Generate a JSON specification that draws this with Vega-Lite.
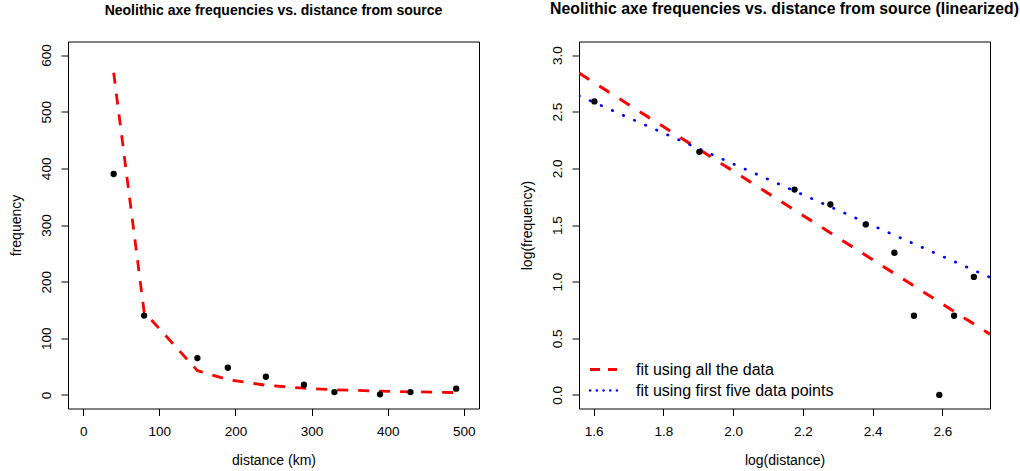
{
  "$schema": "https://vega.github.io/schema/vega-lite/v6.json",
  "autosize": {"type": "pad"},
  "padding": {"left": 8, "top": -0.5, "right": 0, "bottom": 0},
  "bounds": "flush",
  "spacing": 100,
  "resolve": {"scale": {"color": "independent", "strokeDash": "independent"}, "legend": {"color": "independent", "strokeDash": "independent"}},
  "config": {
    "font": "Liberation Sans",
    "view": {"stroke": "black", "strokeWidth": 1},
    "axis": {"domain": false, "grid": false, "ticks": true, "tickColor": "black", "tickSize": 7, "tickWidth": 1, "labelColor": "black", "labelFont": "Liberation Sans", "labelFontSize": 13.5, "titleFont": "Liberation Sans", "titleFontSize": 14, "titleFontWeight": "normal", "titleColor": "black", "labelOverlap": false, "labelFlush": false},
    "axisX": {"labelPadding": 9, "titlePadding": 15},
    "axisY": {"labelAngle": -90, "labelAlign": "center", "labelBaseline": "bottom", "labelPadding": 8, "titlePadding": 16},
    "title": {"font": "Liberation Sans", "fontSize": 14, "fontWeight": "bold", "color": "black", "anchor": "middle", "frame": "group", "baseline": "alphabetic", "offset": 24},
    "legend": {"orient": "none", "legendX": 16.5, "legendY": 320, "symbolType": "M-1.35,0H1.35", "symbolSize": 400, "symbolStrokeWidth": 2.5, "symbolFillColor": "transparent", "labelFontSize": 16, "labelFont": "Liberation Sans", "labelColor": "black", "labelOffset": 24.5, "labelLimit": 0, "rowPadding": 5, "padding": 0, "titlePadding": 0}
  },
  "hconcat": [
    {
      "width": 411,
      "height": 367,
      "title": "Neolithic axe frequencies vs. distance from source",
      "data": {"values": [
        {"distance": 40, "frequency": 390, "fitted": 568.8},
        {"distance": 80, "frequency": 140, "fitted": 146.5},
        {"distance": 150, "frequency": 65, "fitted": 42.8},
        {"distance": 190, "frequency": 48, "fitted": 27.0},
        {"distance": 240, "frequency": 32, "fitted": 17.1},
        {"distance": 290, "frequency": 18, "fitted": 11.8},
        {"distance": 330, "frequency": 5, "fitted": 9.2},
        {"distance": 390, "frequency": 1, "fitted": 6.6},
        {"distance": 430, "frequency": 5, "fitted": 5.5},
        {"distance": 490, "frequency": 11, "fitted": 4.2}
      ]},
      "layer": [
        {
          "mark": {"type": "line", "color": "red", "strokeDash": [11, 10], "strokeWidth": 2.8, "clip": true},
          "encoding": {
            "x": {"field": "distance", "type": "quantitative", "scale": {"domain": [-20, 520], "nice": false, "zero": false}, "axis": {"values": [0, 100, 200, 300, 400, 500], "title": "distance (km)"}},
            "y": {"field": "fitted", "type": "quantitative", "scale": {"domain": [-24, 624], "nice": false, "zero": false}, "axis": {"values": [0, 100, 200, 300, 400, 500, 600], "title": "frequency"}}
          }
        },
        {
          "mark": {"type": "point", "filled": true, "shape": "circle", "size": 40, "color": "black", "opacity": 1},
          "encoding": {
            "x": {"field": "distance", "type": "quantitative"},
            "y": {"field": "frequency", "type": "quantitative"}
          }
        }
      ]
    },
    {
      "width": 411,
      "height": 367,
      "title": {"text": "Neolithic axe frequencies vs. distance from source (linearized)", "fontSize": 15.8},
      "layer": [
        {
          "data": {"values": [
            {"fit": "fit using all the data", "logd": 1.558, "logf": 2.8412},
            {"fit": "fit using all the data", "logd": 2.7365, "logf": 0.5352}
          ]},
          "mark": {"type": "line", "color": "red", "strokeDash": [12, 12], "strokeWidth": 3, "clip": true},
          "encoding": {
            "x": {"field": "logd", "type": "quantitative", "scale": {"domain": [1.558, 2.7365], "nice": false, "zero": false}, "axis": {"values": [1.6, 1.8, 2.0, 2.2, 2.4, 2.6], "format": ".1f", "title": "log(distance)"}},
            "y": {"field": "logf", "type": "quantitative", "scale": {"domain": [-0.12, 3.12], "nice": false, "zero": false}, "axis": {"values": [0, 0.5, 1, 1.5, 2, 2.5, 3], "format": ".1f", "title": "log(frequency)"}}
          }
        },
        {
          "data": {"values": [
            {"fit": "fit using first five data points", "logd": 1.558, "logf": 2.6413},
            {"fit": "fit using first five data points", "logd": 2.7365, "logf": 1.0378}
          ]},
          "mark": {"type": "line", "color": "blue", "strokeDash": [0.5, 11.6], "strokeCap": "round", "strokeWidth": 2.7, "clip": true},
          "encoding": {
            "x": {"field": "logd", "type": "quantitative"},
            "y": {"field": "logf", "type": "quantitative"}
          }
        },
        {
          "data": {"values": [
            {"fit": "fit using all the data"},
            {"fit": "fit using first five data points"}
          ]},
          "mark": {"type": "line", "opacity": 0},
          "encoding": {
            "color": {"field": "fit", "type": "nominal", "scale": {"domain": ["fit using all the data", "fit using first five data points"], "range": ["red", "blue"]},
              "legend": {"title": null, "encode": {"symbols": {"update": {
                "strokeDash": {"signal": "datum.value === 'fit using all the data' ? [10, 8] : [0.3, 6.4]"},
                "strokeWidth": {"signal": "datum.value === 'fit using all the data' ? 3 : 2.3"},
                "strokeCap": {"signal": "datum.value === 'fit using all the data' ? 'butt' : 'round'"},
                "opacity": {"value": 1},
                "strokeOpacity": {"value": 1}
              }}}}}
          }
        },
        {
          "data": {"values": [
            {"logd": 1.6021, "logf": 2.5911},
            {"logd": 1.9031, "logf": 2.1461},
            {"logd": 2.1761, "logf": 1.8129},
            {"logd": 2.2788, "logf": 1.6812},
            {"logd": 2.3802, "logf": 1.5051},
            {"logd": 2.4624, "logf": 1.2553},
            {"logd": 2.5185, "logf": 0.6990},
            {"logd": 2.5911, "logf": 0.0},
            {"logd": 2.6335, "logf": 0.6990},
            {"logd": 2.6902, "logf": 1.0414}
          ]},
          "mark": {"type": "point", "filled": true, "shape": "circle", "size": 40, "color": "black", "opacity": 1},
          "encoding": {
            "x": {"field": "logd", "type": "quantitative"},
            "y": {"field": "logf", "type": "quantitative"}
          }
        }
      ]
    }
  ]
}
